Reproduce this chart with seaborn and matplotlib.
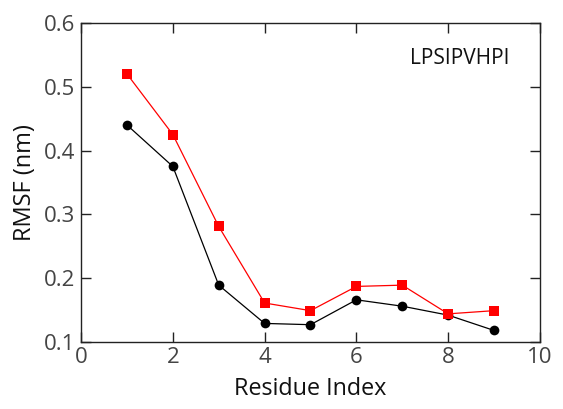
import matplotlib
matplotlib.use("Agg")
import matplotlib.pyplot as plt
import seaborn as sns
import pandas as pd

residue = [1, 2, 3, 4, 5, 6, 7, 8, 9]
black_rmsf = [0.440, 0.375, 0.189, 0.129, 0.127, 0.166, 0.156, 0.142, 0.118]
red_rmsf = [0.520, 0.425, 0.281, 0.161, 0.149, 0.187, 0.189, 0.144, 0.149]
x_ticks = [0, 2, 4, 6, 8, 10]
y_ticks = [0.1, 0.2, 0.3, 0.4, 0.5, 0.6]

sns.set_style("ticks")
plt.rcParams['font.family'] = ['Open Sans', 'DejaVu Sans']

fig = plt.figure(figsize=(5.63, 4.09), dpi=100)
ax = fig.add_axes([0.144, 0.164, 0.815, 0.780])

df_b = pd.DataFrame({"x": residue, "y": black_rmsf})
df_r = pd.DataFrame({"x": residue, "y": red_rmsf})

sns.lineplot(data=df_b, x="x", y="y", ax=ax, color="black", linewidth=0.9,
             marker="o", markersize=7, markeredgewidth=0, zorder=3)
sns.lineplot(data=df_r, x="x", y="y", ax=ax, color="#ff0000", linewidth=0.9,
             marker="s", markersize=7, markeredgewidth=0, zorder=4)

ax.set_xlim(0, 10)
ax.set_ylim(0.1, 0.6)
ax.set_xticks(x_ticks)
ax.set_yticks(y_ticks)
ax.set_xticklabels([str(t) for t in x_ticks])
ax.set_yticklabels([f"{t:.1f}" for t in y_ticks])
ax.tick_params(direction="in", length=7, width=1, top=True, right=True,
               labelsize=16, labelcolor="#444444", color="#222222", pad=4)
for s in ax.spines.values():
    s.set_linewidth(1.0)
    s.set_color("#222222")
ax.set_xlabel("Residue Index", fontsize=16.8, color="#111111", labelpad=6)
ax.set_ylabel("RMSF (nm)", fontsize=17, color="#111111", labelpad=5)
ax.text(0.717, 0.889, "LPSIPVHPI", transform=ax.transAxes, fontsize=15,
        color="#111111", ha="left", va="center")

fig.savefig("out.png", dpi=100)
